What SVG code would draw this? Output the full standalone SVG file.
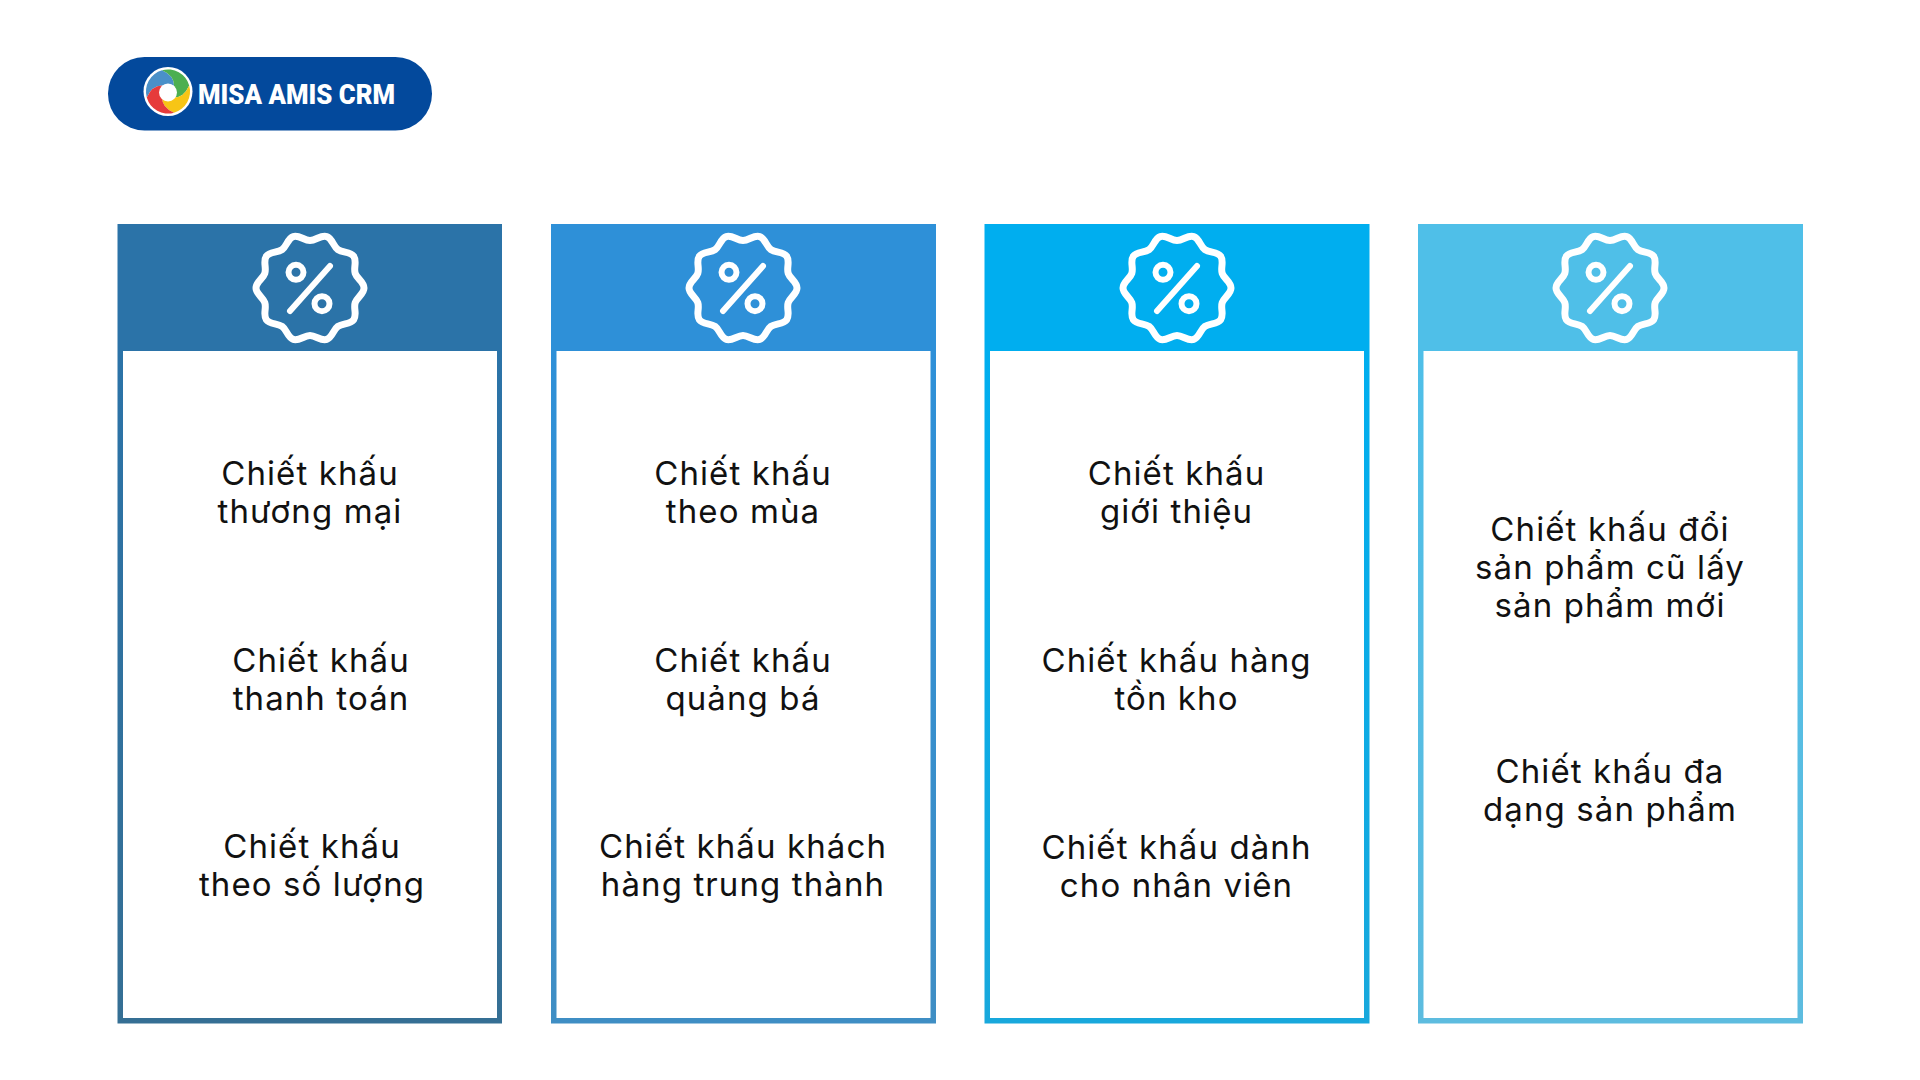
<svg xmlns="http://www.w3.org/2000/svg" width="1920" height="1080" viewBox="0 0 1920 1080">
<style>
.t{font-family:Inter,"Noto Sans",sans-serif;font-size:33px;letter-spacing:1.1px;fill:#111;text-anchor:middle}
.w{fill:#fff}
.b{fill:none;stroke:#fff;stroke-width:7;stroke-linejoin:round;stroke-linecap:round}
</style>
<defs>
<linearGradient id="g1" x1="0" y1="0" x2="0" y2="1"><stop offset="0.16" stop-color="#2b73a8"/><stop offset="1" stop-color="#356f94"/></linearGradient>
<linearGradient id="g2" x1="0" y1="0" x2="0" y2="1"><stop offset="0.16" stop-color="#2e90d8"/><stop offset="1" stop-color="#3f8ec4"/></linearGradient>
<linearGradient id="g3" x1="0" y1="0" x2="0" y2="1"><stop offset="0.16" stop-color="#00aeef"/><stop offset="1" stop-color="#18a8dc"/></linearGradient>
<linearGradient id="g4" x1="0" y1="0" x2="0" y2="1"><stop offset="0.16" stop-color="#4fbfe8"/><stop offset="1" stop-color="#5dbcdf"/></linearGradient>
<g id="badge">
<path class="b" d="M54 0C54 6 47.1 9 45.2 14.7S47.2 26.8 43.7 31.7S32.8 34.9 27.9 38.4S22.4 49.5 16.7 51.4S6 47.5 0 47.5S-11 53.3-16.7 51.4S-23 41.9-27.9 38.4S-40.2 36.6-43.7 31.7S-43.3 20.4-45.2 14.7S-54 6-54 0S-47.1-9-45.2-14.7S-47.2-26.8-43.7-31.7S-32.8-34.9-27.9-38.4S-22.4-49.5-16.7-51.4S-6-47.5 0-47.5S11-53.3 16.7-51.4S23-41.9 27.9-38.4S40.2-36.6 43.7-31.7S43.3-20.4 45.2-14.7S54-6 54 0Z"/>
<circle cx="-14" cy="-15.7" r="7.5" fill="none" stroke="#fff" stroke-width="6"/>
<circle cx="12" cy="15.7" r="7.5" fill="none" stroke="#fff" stroke-width="6"/>
<path d="M20-22L-20 23" fill="none" stroke="#fff" stroke-width="6" stroke-linecap="round"/>
</g>
</defs>
<rect width="1920" height="1080" fill="#fff"/>
<g id="logo">
<rect x="108" y="57" width="324" height="73.5" rx="36.5" fill="#03499c"/>
<g transform="translate(168,91.5)">
<circle r="24.5" fill="#fff"/>
<path d="M-21.2 6A22 22 0 0 1-6-21.2Q6-16 6-6L-6-6Q-16-6-21.2 6Z" fill="#4a90c8"/>
<path d="M-6-21.2A22 22 0 0 1 21.2-6Q16 6 6 6L6-6Q6-16-6-21.2Z" fill="#4caf50"/>
<path d="M21.2-6A22 22 0 0 1 6 21.2Q-6 16-6 6L6 6Q16 6 21.2-6Z" fill="#f7c516"/>
<path d="M6 21.2A22 22 0 0 1-21.2 6Q-16-6-6-6L-6 6Q-6 16 6 21.2Z" fill="#e63b3b"/>
<circle r="9" cy="1" fill="#fff"/>
</g>
<text x="198" y="104" font-family="Roboto,sans-serif" font-weight="900" font-size="28" fill="#fff" textLength="197" lengthAdjust="spacingAndGlyphs">MISA AMIS CRM</text>
</g>
<g id="card1">
<rect x="117.5" y="224" width="384.5" height="799.5" fill="url(#g1)"/>
<rect x="123" y="351" width="374" height="667" class="w"/>
<use href="#badge" x="310" y="288"/>
<text class="t" x="310" y="484.5">Chiết khấu</text><text class="t" x="310" y="522.5">thương mại</text>
<text class="t" x="321" y="671.5">Chiết khấu</text><text class="t" x="321" y="709.5">thanh toán</text>
<text class="t" x="312" y="857.5">Chiết khấu</text><text class="t" x="312" y="895.5">theo số lượng</text>
</g>
<g id="card2">
<rect x="551" y="224" width="385" height="799.5" fill="url(#g2)"/>
<rect x="556.5" y="351" width="374" height="667" class="w"/>
<use href="#badge" x="743" y="288"/>
<text class="t" x="743" y="484.5">Chiết khấu</text><text class="t" x="743" y="522.5">theo mùa</text>
<text class="t" x="743" y="671.5">Chiết khấu</text><text class="t" x="743" y="709.5">quảng bá</text>
<text class="t" x="743" y="857.5">Chiết khấu khách</text><text class="t" x="743" y="895.5">hàng trung thành</text>
</g>
<g id="card3">
<rect x="984.5" y="224" width="385" height="799.5" fill="url(#g3)"/>
<rect x="990" y="351" width="374" height="667" class="w"/>
<use href="#badge" x="1177" y="288"/>
<text class="t" x="1176.5" y="484.5">Chiết khấu</text><text class="t" x="1176.5" y="522.5">giới thiệu</text>
<text class="t" x="1176.5" y="671.5">Chiết khấu hàng</text><text class="t" x="1176.5" y="709.5">tồn kho</text>
<text class="t" x="1176.5" y="858.5">Chiết khấu dành</text><text class="t" x="1176.5" y="896.5">cho nhân viên</text>
</g>
<g id="card4">
<rect x="1418" y="224" width="385" height="799.5" fill="url(#g4)"/>
<rect x="1423.5" y="351" width="374" height="667" class="w"/>
<use href="#badge" x="1610" y="288"/>
<text class="t" x="1610" y="540.5">Chiết khấu đổi</text><text class="t" x="1610" y="578.5">sản phẩm cũ lấy</text><text class="t" x="1610" y="616.5">sản phẩm mới</text>
<text class="t" x="1610" y="782.5">Chiết khấu đa</text><text class="t" x="1610" y="820.5">dạng sản phẩm</text>
</g>
</svg>
